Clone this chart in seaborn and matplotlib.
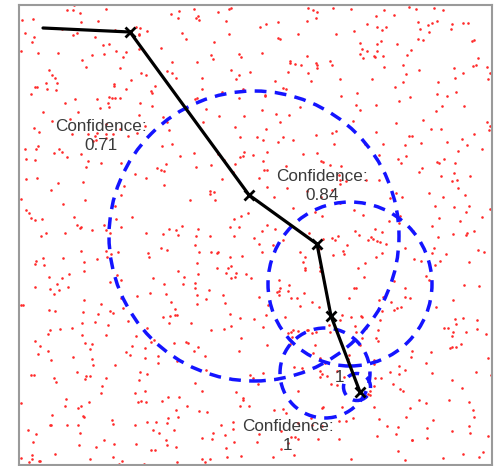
import numpy as np
import pandas as pd
import matplotlib
matplotlib.use("Agg")
import matplotlib.pyplot as plt
from matplotlib.patches import Circle
import seaborn as sns

# Robot trajectory (world units) and pose estimates marked with crosses
path_x = [2.4, 11.1, 23.0, 29.8, 31.2, 34.1]
path_y = [43.7, 43.3, 27.0, 22.1, 14.9, 7.3]
marker_idx = [1, 2, 3, 4, 5]

# Uncertainty circles: centre x, centre y, radius
circle_cx = [23.5, 33.1, 30.6, 33.8]
circle_cy = [22.9, 18.1, 9.2, 7.8]
circle_r = [14.5, 8.2, 4.5, 1.35]

# Confidence annotations
label_text = ["Confidence:\n0.71", "Confidence:\n0.84", "Confidence:\n1", "1"]
label_x = [8.2, 30.3, 26.9, 32.0]
label_y = [32.9, 27.9, 2.9, 8.7]

# Particle cloud spread over the whole map
n_particles = 900
rng = np.random.default_rng(7)
particles = pd.DataFrame({
    "x": rng.uniform(0, 47.3, n_particles),
    "y": rng.uniform(0, 46.0, n_particles),
})

sns.set_theme(style="white")
plt.rcParams["font.family"] = ["Liberation Sans", "DejaVu Sans"]

fig = plt.figure(figsize=(4.97, 4.66), dpi=100)
ax = fig.add_axes([19 / 497, 1 / 466, 473 / 497, 460 / 466])

sns.scatterplot(data=particles, x="x", y="y", ax=ax, color="#ff2a2a",
                s=3.5, linewidth=0, legend=False, zorder=1)

for cx, cy, r in zip(circle_cx, circle_cy, circle_r):
    ax.add_patch(Circle((cx, cy), r, fill=False, edgecolor="#1414ff",
                        linewidth=2.5, linestyle=(0, (3.4, 2.4)), zorder=2))

traj = pd.DataFrame({"x": path_x, "y": path_y})
sns.lineplot(data=traj, x="x", y="y", ax=ax, sort=False, color="black",
             linewidth=2.3, zorder=3)
marks = traj.iloc[marker_idx]
ax.plot(marks["x"], marks["y"], linestyle="none", marker="x", color="black",
        markersize=7, markeredgewidth=2, zorder=4)

for t, x, y in zip(label_text, label_x, label_y):
    ax.text(x, y, t, ha="center", va="center", fontsize=12.3,
            color="#3a3a3a", linespacing=1.3, zorder=5)

ax.set_xlim(0, 47.3)
ax.set_ylim(0, 46.0)
ax.set_aspect("equal")
ax.set_xticks([])
ax.set_yticks([])
ax.set_xlabel("")
ax.set_ylabel("")
for sp in ax.spines.values():
    sp.set_visible(True)
    sp.set_color("#9a9a9a")
    sp.set_linewidth(1.5)

fig.savefig("out.png", dpi=100)
